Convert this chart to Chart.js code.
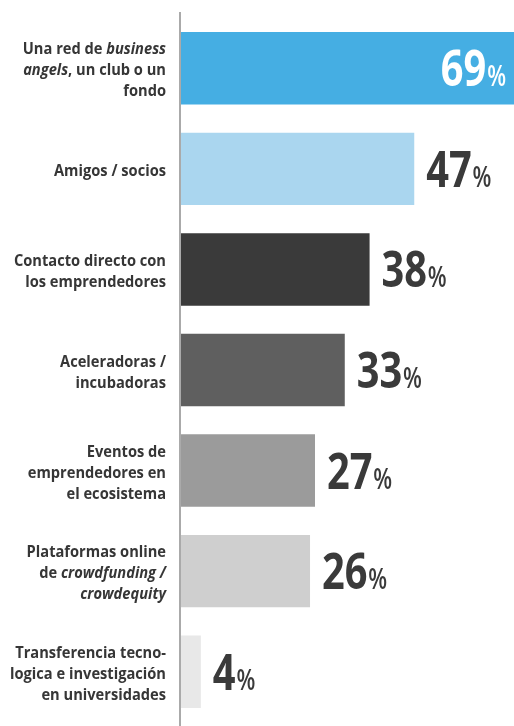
<!DOCTYPE html>
<html><head><meta charset="utf-8">
<script src="https://cdn.jsdelivr.net/npm/chart.js@4"></script>
<style>html,body{margin:0;padding:0;background:#fff}#wrap{width:514px;height:726px;position:relative}</style>
</head><body><div id="wrap"><canvas id="c"></canvas></div>
<script>
// Category labels: lines; segments between underscores are italic
const categories = [
  ["Una red de _business_", "_angels_, un club o un", "fondo"],
  ["Amigos / socios"],
  ["Contacto directo con", "los emprendedores"],
  ["Aceleradoras /", "incubadoras"],
  ["Eventos de", "emprendedores en", "el ecosistema"],
  ["Plataformas online", "de _crowdfunding /_", "_crowdequity_"],
  ["Transferencia tecno-", "logica e investigación", "en universidades"]
];
const values = [69, 47, 38, 33, 27, 26, 4];
const barColors = ["#45aee3", "#aad6ef", "#3a3a3a", "#5f5f5f", "#9b9b9b", "#cfcfcf", "#e8e8e8"];
const valueSuffix = "%";

const TEXT = "#363636";
const LF = "'Open Sans', sans-serif";

const richLabels = {
  id: 'richLabels',
  afterDraw(chart) {
    const ctx = chart.ctx;
    const meta = chart.getDatasetMeta(0);
    const area = chart.chartArea;
    ctx.save();
    // axis line
    ctx.strokeStyle = "#aaaaaa";
    ctx.lineWidth = 2;
    ctx.beginPath();
    ctx.moveTo(area.left - 1, 12);
    ctx.lineTo(area.left - 1, 726);
    ctx.stroke();

    const sx = 0.9;
    const lh = 21;
    meta.data.forEach((bar, i) => {
      const lines = categories[i];
      const cy = bar.y;
      const first = cy + 7 - (lines.length - 1) / 2 * lh;
      lines.forEach((ln, j) => {
        const parts = ln.split('_');
        const segs = parts.map((t, k) => ({t, it: k % 2 === 1})).filter(s => s.t.length);
        let total = 0;
        segs.forEach(s => {
          ctx.font = (s.it ? 'italic ' : '') + '700 16.3px ' + LF;
          s.w = ctx.measureText(s.t).width;
          total += s.w;
        });
        ctx.save();
        ctx.translate(166 - total * sx, first + j * lh);
        ctx.scale(sx, 1);
        ctx.fillStyle = TEXT;
        ctx.textBaseline = 'alphabetic';
        ctx.textAlign = 'left';
        let x = 0;
        segs.forEach(s => {
          ctx.font = (s.it ? 'italic ' : '') + '700 16.3px ' + LF;
          ctx.fillText(s.t, x, 0);
          x += s.w;
        });
        ctx.restore();
      });

      // value label
      const num = String(values[i]);
      const vsx = 0.78;
      ctx.font = '700 51px ' + LF;
      const nw = ctx.measureText(num).width;
      ctx.font = '600 28px ' + LF;
      const pw = ctx.measureText(valueSuffix).width;
      const tw = (nw + pw + 1) * vsx;
      const inside = i === 0;
      const x0 = inside ? 506 - tw : bar.x + 12;
      ctx.save();
      ctx.translate(x0, cy + 18);
      ctx.scale(vsx, 1);
      ctx.fillStyle = inside ? '#ffffff' : "#3a3a3a";
      ctx.textAlign = 'left';
      ctx.textBaseline = 'alphabetic';
      ctx.font = '700 51px ' + LF;
      ctx.fillText(num, 0, 0);
      ctx.font = '600 28px ' + LF;
      ctx.fillText(valueSuffix, nw + 1, 0);
      ctx.restore();
    });
    ctx.restore();
  }
};

new Chart(document.getElementById('c'), {
  type: 'bar',
  data: {
    labels: categories.map(l => l.join(' ').replace(/_/g, '')),
    datasets: [{
      data: values,
      backgroundColor: barColors,
      borderWidth: 0,
      categoryPercentage: 0.72,
      barPercentage: 1
    }]
  },
  options: {
    indexAxis: 'y',
    responsive: true,
    maintainAspectRatio: false,
    animation: false,
    layout: { padding: { left: 181, top: 18, bottom: 4, right: 0 } },
    plugins: { legend: { display: false }, tooltip: { enabled: false } },
    scales: {
      x: { display: false, min: 0, max: 67.1 },
      y: { display: false }
    }
  },
  plugins: [richLabels]
});
</script></body></html>
